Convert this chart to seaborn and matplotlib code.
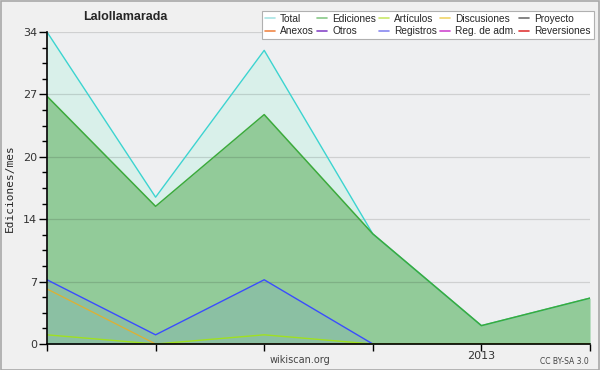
import matplotlib
matplotlib.use("Agg")
import matplotlib.pyplot as plt
from matplotlib.lines import Line2D
from matplotlib.patches import Rectangle
import seaborn as sns
import pandas as pd
import numpy as np

# ---- data ----
months = ["2012-09", "2012-10", "2012-11", "2012-12", "2013-01", "2013-02"]
x_labels = ["", "", "", "", "2013", ""]
total = [34, 16, 32, 12, 2, 5]
ediciones = [27, 15, 25, 12, 2, 5]
registros = [7, 1, 7, 0, 0, 0]
discusiones = [6, 0, 0, 0, 0, 0]
articulos = [1, 0, 1, 0, 0, 0]
y_ticks = [0, 6.8, 13.6, 20.4, 27.2, 34]
y_tick_labels = ["0", "7", "14", "20", "27", "34"]

legend_names = ["Total", "Ediciones", "Artículos", "Discusiones", "Proyecto",
                "Anexos", "Otros", "Registros", "Reg. de adm.", "Reversiones"]
legend_colors = ["#a8e4e4", "#88c888", "#c8e868", "#f0d468", "#707070",
                 "#f08848", "#8848c8", "#8888f0", "#d048d0", "#e03838"]

df = pd.DataFrame({"pos": np.arange(len(months)), "month": months,
                   "Total": total, "Ediciones": ediciones, "Registros": registros,
                   "Discusiones": discusiones, "Artículos": articulos})

sns.set_style("white")
plt.rcParams["font.family"] = ["DejaVu Sans"]

fig = plt.figure(figsize=(6, 3.7), dpi=100, facecolor="#f0f0f0")
ax = fig.add_axes([47/600, 1 - 344/370, (590-47)/600, (344-32)/370])
ax.set_facecolor("#eeeff1")

# fills
ax.fill_between(df["pos"], 0, df["Total"], color="#d9f0ea", lw=0, zorder=1)
ax.fill_between(df["pos"], 0, df["Ediciones"], color="#92cb99", lw=0, zorder=2)
ax.fill_between(df["pos"], 0, df["Registros"], color="#5060ff", alpha=0.1, lw=0, zorder=3)

# lines
sns.lineplot(data=df, x="pos", y="Total", color="#3cd4d0", lw=1, ax=ax, zorder=4)
sns.lineplot(data=df, x="pos", y="Ediciones", color="#3caa3c", lw=1.1, ax=ax, zorder=5)
sns.lineplot(data=df, x="pos", y="Registros", color="#3a4cff", lw=1, ax=ax, zorder=6)
sns.lineplot(data=df, x="pos", y="Discusiones", color="#e0b030", lw=0.9, ax=ax, zorder=6)
sns.lineplot(data=df, x="pos", y="Artículos", color="#a0e020", lw=1, ax=ax, zorder=6)

ax.set_xlim(0, len(months) - 1)
ax.set_ylim(0, 34)

# grid on top of fills
for yv in y_ticks[1:]:
    ax.axhline(yv, color="black", alpha=0.13, lw=0.9, zorder=3.5)

ax.set_yticks(y_ticks)
ax.set_yticklabels(y_tick_labels, fontsize=8, color="#333333")
ax.set_yticks(np.arange(0, 34.01, 1.7), minor=True)
ax.set_xticks(df["pos"])
ax.set_xticklabels(x_labels, fontsize=8, color="#333333")
ax.tick_params(axis="y", which="major", length=6, width=1, color="black", pad=1, left=True)
ax.tick_params(axis="y", which="minor", length=3.5, width=1, color="black", left=True)
ax.tick_params(axis="x", which="major", length=5, width=1, color="black", pad=0, bottom=True)

for s in ["top", "right"]:
    ax.spines[s].set_visible(False)
for s in ["left", "bottom"]:
    ax.spines[s].set_color("black")
    ax.spines[s].set_linewidth(1.2)
    ax.spines[s].set_zorder(10)

ax.set_xlabel("")
ax.set_ylabel("Ediciones/mes", fontsize=8, family="DejaVu Sans Mono", labelpad=6)

# legend
handles = [Line2D([], [], color=c, lw=1.2) for c in legend_colors]
order = [0, 5, 1, 6, 2, 7, 3, 8, 4, 9]
leg = fig.legend([handles[i] for i in order], [legend_names[i] for i in order],
                 ncol=5, loc="upper right", bbox_to_anchor=(594/600, 1 - 11/370),
                 prop={"family": "Liberation Sans", "size": 7.3},
                 frameon=True, fancybox=False, framealpha=1,
                 edgecolor="#b0b0b0", facecolor="white", handlelength=1.0,
                 handletextpad=0.5, columnspacing=0.3, labelspacing=0.2,
                 borderpad=0.3, borderaxespad=0)
leg.get_frame().set_linewidth(0.8)

fig.text(125/600, 1 - 17/370, "Lalollamarada", fontsize=9, fontweight="bold",
         family="Liberation Sans", ha="center", va="center")
fig.text(300/600, 1 - 360/370, "wikiscan.org", fontsize=7, color="#444444",
         ha="center", va="center")
fig.text(589/600, 1 - 361/370, "CC BY-SA 3.0", fontsize=5.5, color="#444444",
         ha="right", va="center")

fig.patches.append(Rectangle((0.5/600, 0.5/370), 1 - 1.5/600, 1 - 1.5/370,
                             transform=fig.transFigure, fill=False,
                             edgecolor="#a8a8a8", lw=1.2))

fig.savefig("out.png", dpi=100, facecolor=fig.get_facecolor())
